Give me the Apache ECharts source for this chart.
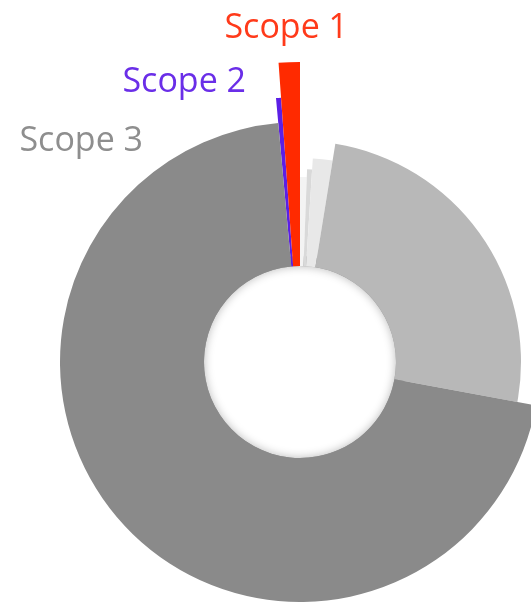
<!DOCTYPE html>
<html>
<head>
<meta charset="utf-8">
<script src="https://cdn.jsdelivr.net/npm/echarts@6/dist/echarts.min.js"></script>
<style>html,body{margin:0;padding:0;background:#fff}#c{width:531px;height:604px}</style>
</head>
<body>
<div id="c"></div>
<script>
// Slices in clockwise order starting just left of 12 o'clock
var categories = ['Scope 2', 'Scope 1', 'Scope 3 a', 'Scope 3 b', 'Scope 3 c', 'Scope 3 d', 'Scope 3 e'];
var angleShare = [1.1, 4.1, 2.1, 1.5, 5.6, 91.2, 254.4];   // share of the circle (degrees)
var sliceSize = [265, 300, 185, 193, 204, 221, 240];        // outer extent of each slice
var sliceColors = ['#5b1fe6', '#ff2a00', '#f3f3f3', '#d9d9d9', '#e8e8e8', '#b8b8b8', '#8a8a8a'];
var labelNames = ['Scope 1', 'Scope 2', 'Scope 3'];
var labelColors = ['#ff3a1a', '#6a2ee8', '#8e8e8e'];

var CX = 300, CY = 362, INNER = 96;
var startAngle = 90 + 5.2;

var series = [];
// ring that casts the soft shadow into the hole
series.push({
  type: 'pie', silent: true, animation: false, z: 1,
  center: [CX, CY], radius: [INNER, INNER + 10], startAngle: startAngle,
  label: {show: false}, labelLine: {show: false},
  data: [{value: 1, name: 'ring', itemStyle: {color: '#999', shadowBlur: 10, shadowColor: 'rgba(0,0,0,0.28)'}}]
});
categories.forEach(function (name, i) {
  series.push({
    type: 'pie', silent: true, animation: false, z: 2,
    center: [CX, CY], radius: [INNER, sliceSize[i]], startAngle: startAngle,
    clockwise: true, avoidLabelOverlap: false, minAngle: 0,
    label: {show: false}, labelLine: {show: false},
    data: categories.map(function (n, j) {
      return {
        value: angleShare[j], name: n,
        itemStyle: {color: j === i ? sliceColors[j] : 'rgba(0,0,0,0)', borderWidth: 0}
      };
    })
  });
});

var labelPos = [[348, 28], [246, 82], [143, 141]];
var chart = echarts.init(document.getElementById('c'), null, {renderer: 'canvas'});
chart.setOption({
  animation: false,
  series: series,
  graphic: labelNames.map(function (t, i) {
    return {
      type: 'text', x: labelPos[i][0], y: labelPos[i][1],
      style: {text: t, fill: labelColors[i], font: '34px "Open Sans"', textAlign: 'right', verticalAlign: 'middle'}
    };
  })
});
</script>
</body>
</html>
